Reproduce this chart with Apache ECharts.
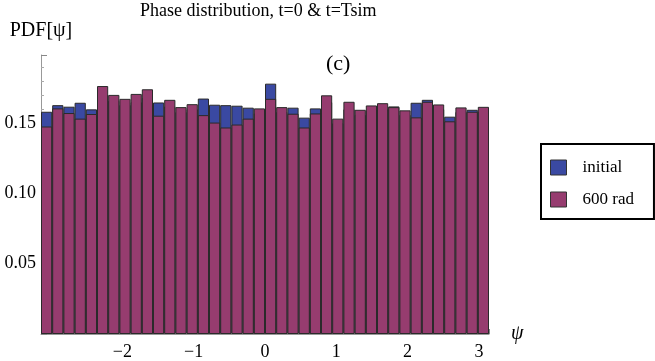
<!DOCTYPE html>
<html>
<head>
<meta charset="utf-8">
<script src="https://cdn.jsdelivr.net/npm/echarts@6/dist/echarts.min.js"></script>
<style>
  html, body { margin: 0; padding: 0; background: #fff; }
  #chart { width: 655px; height: 361px; }
</style>
</head>
<body>
<div id="chart"></div>
<script>
// histogram: 40 bins over [-pi, pi]
const BIN_COUNT = 40
const X_MIN = -Math.PI
const X_MAX = Math.PI

// PDF values, left to right
const initialPdf = [
  0.1582, 0.1629, 0.1618, 0.1646, 0.1599, 0.1700, 0.1660, 0.1630, 0.1650, 0.1680,
  0.1648, 0.1620, 0.1580, 0.1600, 0.1676, 0.1632, 0.1629, 0.1625, 0.1611, 0.1570,
  0.1782, 0.1580, 0.1611, 0.1540, 0.1606, 0.1650, 0.1500, 0.1600, 0.1560, 0.1590,
  0.1600, 0.1620, 0.1560, 0.1646, 0.1667, 0.1600, 0.1547, 0.1580, 0.1596, 0.1580
]
const finalPdf = [
  0.1477, 0.1606, 0.1573, 0.1533, 0.1566, 0.1765, 0.1702, 0.1674, 0.1709, 0.1742,
  0.1554, 0.1667, 0.1615, 0.1636, 0.1558, 0.1505, 0.1470, 0.1491, 0.1533, 0.1606,
  0.1674, 0.1615, 0.1568, 0.1470, 0.1570, 0.1699, 0.1533, 0.1653, 0.1596, 0.1627,
  0.1643, 0.1615, 0.1592, 0.1542, 0.1653, 0.1634, 0.1514, 0.1613, 0.1582, 0.1617
]
const seriesNames = ['initial', '600 rad']
const yTicks = [0.05, 0.10, 0.15]
const xTicks = [-2, -1, 0, 1, 2, 3]

const binWidth = (X_MAX - X_MIN) / BIN_COUNT
const binCenters = initialPdf.map((_, i) => X_MIN + (i + 0.5) * binWidth)

const SERIF = "'Liberation Serif', 'DejaVu Serif', serif"
const BLUE = '#3a49a2'
const PINK = '#963c6f'

const chart = echarts.init(document.getElementById('chart'))

const gridLeft = 41
const gridRight = 166
const barPx = (655 - gridLeft - gridRight) / BIN_COUNT

function makeSeries(name, values, color) {
  return {
    name: name,
    type: 'bar',
    barWidth: barPx,
    barGap: '-100%',
    data: values.map((v, i) => [binCenters[i], v]),
    itemStyle: { color: color, borderColor: '#2a2a2a', borderWidth: 1 },
    emphasis: { disabled: true }
  }
}

chart.setOption({
  animation: false,
  backgroundColor: '#fff',
  textStyle: { fontFamily: SERIF, color: '#000' },
  title: {
    text: 'Phase distribution, t=0 & t=Tsim',
    left: 135,
    top: -3,
    textStyle: { fontFamily: SERIF, fontSize: 18, fontWeight: 'normal', color: '#000' }
  },
  graphic: [
    {
      type: 'text',
      left: 326,
      top: 53,
      style: { text: '(c)', font: '22px ' + SERIF, fill: '#000' }
    }
  ],
  legend: {
    orient: 'vertical',
    left: 541,
    top: 144,
    data: seriesNames,
    itemWidth: 16,
    itemHeight: 15,
    itemGap: 15,
    padding: [15, 20, 11, 9],
    borderColor: '#000',
    borderWidth: 2,
    icon: 'rect',
    itemStyle: { borderColor: '#333', borderWidth: 1 },
    textStyle: { fontFamily: SERIF, fontSize: 17, color: '#000', padding: [0, 0, 0, 11] }
  },
  grid: { left: gridLeft, right: gridRight, top: 55, bottom: 24 },
  xAxis: {
    type: 'value',
    min: X_MIN,
    max: X_MAX,
    splitNumber: 6,
    name: 'ψ',
    nameLocation: 'end',
    nameGap: 22,
    nameTextStyle: { fontFamily: SERIF, fontSize: 20, fontStyle: 'italic', color: '#000', verticalAlign: 'middle' },
    axisLine: { onZero: false, lineStyle: { color: '#999', width: 1 } },
    axisTick: { inside: true, length: 5, lineStyle: { color: '#888' } },
    minorTick: { show: true, splitNumber: 5, length: 3, lineStyle: { color: '#aaa' } },
    splitLine: { show: false },
    axisLabel: {
      fontFamily: SERIF,
      fontSize: 18,
      color: '#000',
      margin: 9,
      showMinLabel: false,
      showMaxLabel: false,
      formatter: v => {
        const r = Math.round(v)
        if (Math.abs(v - r) > 1e-6 || !xTicks.includes(r)) return ''
        return r < 0 ? '\u2212' + Math.abs(r) : String(r)
      }
    }
  },
  yAxis: {
    type: 'value',
    min: 0,
    max: 0.1986,
    interval: 0.05,
    name: 'PDF[ψ]',
    nameLocation: 'end',
    nameGap: 14,
    nameTextStyle: { fontFamily: SERIF, fontSize: 20, color: '#000' },
    axisLine: { show: true, onZero: false, lineStyle: { color: '#999', width: 1 } },
    axisTick: { show: true, inside: true, length: 6, lineStyle: { color: '#888' } },
    minorTick: { show: true, splitNumber: 5, length: 3, lineStyle: { color: '#aaa' } },
    splitLine: { show: false },
    axisLabel: {
      fontFamily: SERIF,
      fontSize: 18,
      color: '#000',
      margin: 5,
      showMaxLabel: false,
      formatter: v => {
        const hit = yTicks.find(t => Math.abs(t - v) < 1e-9)
        return hit === undefined ? '' : hit.toFixed(2)
      }
    }
  },
  series: [
    makeSeries(seriesNames[0], initialPdf, BLUE),
    makeSeries(seriesNames[1], finalPdf, PINK)
  ]
})
</script>
</body>
</html>
